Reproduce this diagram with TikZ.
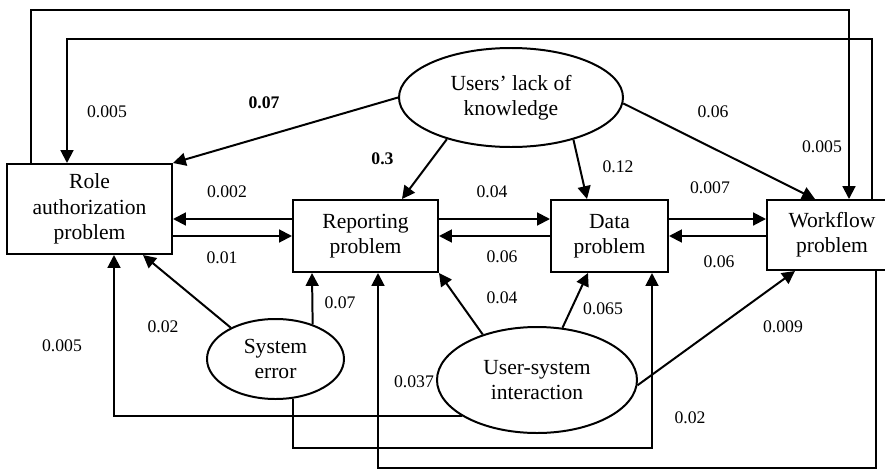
\documentclass[tikz,border=0pt]{standalone}
\usepackage{fontspec}
\setmainfont{Liberation Serif}
\usetikzlibrary{arrows.meta,shapes.geometric}
\tikzset{
  boxnode/.style={draw, line width=1.7pt, rectangle, inner sep=0pt, align=center,
    font=\fontsize{18.4pt}{21.5pt}\selectfont},
  ellnode/.style={draw, line width=1.7pt, ellipse, inner sep=0pt, align=center,
    font=\fontsize{18.4pt}{21.5pt}\selectfont},
  arr/.style={line width=1.7pt, -{Triangle[length=11pt,width=11pt]}},
  lab/.style={font=\fontsize{15.1pt}{18pt}\selectfont, inner sep=0pt},
  blab/.style={font=\fontsize{15.1pt}{18pt}\selectfont\bfseries, inner sep=0pt}
}
\begin{document}
\begin{tikzpicture}[x=0.03cm, y=-0.03cm]
\useasboundingbox (0,0) rectangle (885,470);
% nodes
\node[boxnode, minimum width=4.95cm, minimum height=2.7cm] (role) at (89.5,209) {Role\\authorization\\problem};
\node[boxnode, minimum width=4.35cm, minimum height=2.16cm] (rep) at (365.5,236) {Reporting\\problem};
\node[boxnode, minimum width=3.51cm, minimum height=2.16cm] (data) at (609.5,236) {Data\\problem};
\node[boxnode, minimum width=3.9cm, minimum height=2.1cm] (wf) at (832,235) {Workflow\\problem};
\node[ellnode, minimum width=6.72cm, minimum height=2.97cm] (users) at (511,97.5) {Users' lack of\\knowledge};
\node[ellnode, minimum width=4.11cm, minimum height=2.4cm] (sys) at (275.5,359) {System\\error};
\node[ellnode, minimum width=6.0cm, minimum height=3.18cm] (us) at (537,380) {User-system\\interaction};
% outer loops
\draw[arr] (role.north -| 31,0) -- (31,10) -- (849,10) -- (wf.north -| 849,0);
\draw[arr] (wf.north -| 872,0) -- (872,39) -- (67,39) -- (role.north -| 67,0);
% from users' lack of knowledge
\draw[arr] (users.west) -- (role.north east);
\draw[arr] (users.213) -- (rep.north -| 402,0);
\draw[arr] (users.326) -- (data.north -| 587,0);
\draw[arr] (users.-3) -- (wf.north -| 815,0);
% horizontal pairs
\draw[arr] (rep.west |- 0,219) -- (role.east |- 0,219);
\draw[arr] (role.east |- 0,236) -- (rep.west |- 0,236);
\draw[arr] (rep.east |- 0,219) -- (data.west |- 0,219);
\draw[arr] (data.west |- 0,236) -- (rep.east |- 0,236);
\draw[arr] (data.east |- 0,219) -- (wf.west |- 0,219);
\draw[arr] (wf.west |- 0,236) -- (data.east |- 0,236);
% from system error
\draw[arr] (sys.145) -- (role.south -| 143,0);
\draw[arr] (sys.43) -- (rep.south -| 312,0);
\draw[arr] (sys.-66) |- (652,448) -- (data.south -| 652,0);
% from user-system interaction
\draw[arr] (us.206) -| (role.south -| 114,0);
\draw[arr] (us.140) -- (rep.south east);
\draw[arr] (us.64) -- (data.south -| 588,0);
\draw[arr] (us.-3) -- (wf.south -| 795,0);
% workflow to reporting (bottom loop)
\draw[arr] (wf.south -| 876,0) -- (876,468) -| (rep.south -| 378,0);
% labels
\node[lab] (l1) at (107,112) {0.005};
\node[blab] (l2) at (264,103) {0.07};
\node[blab] (l3) at (382.5,159) {0.3};
\node[lab] (l4) at (227,192) {0.002};
\node[lab] (l5) at (222,258) {0.01};
\node[lab] (l6) at (492,192) {0.04};
\node[lab] (l7) at (618,167) {0.12};
\node[lab] (l8) at (713,112) {0.06};
\node[lab] (l9) at (822,147) {0.005};
\node[lab] (l10) at (710,188) {0.007};
\node[lab] (l11) at (502,257) {0.06};
\node[lab] (l12) at (719,262) {0.06};
\node[lab] (l13) at (163,327) {0.02};
\node[lab] (l14) at (62,346) {0.005};
\node[lab] (l15) at (340,303) {0.07};
\node[lab] (l16) at (502,298) {0.04};
\node[lab] (l17) at (603,309) {0.065};
\node[lab] (l18) at (783,327) {0.009};
\node[lab] (l19) at (414,382) {0.037};
\node[lab] (l20) at (690,418) {0.02};
\end{tikzpicture}
\end{document}
